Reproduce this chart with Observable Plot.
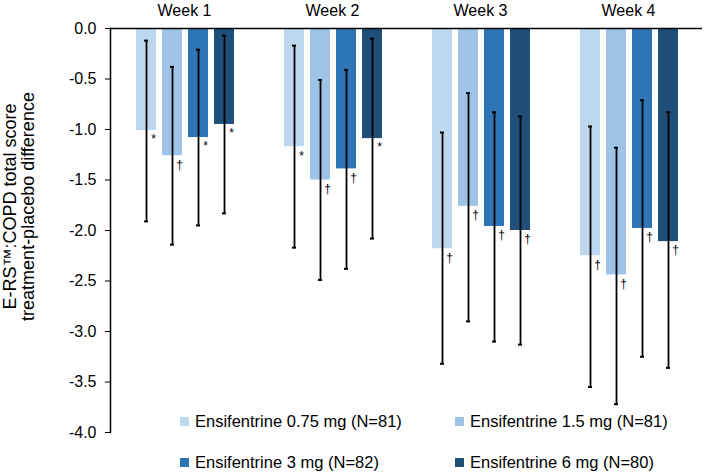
<!DOCTYPE html>
<html>
<head>
<meta charset="utf-8">
<script src="https://cdn.jsdelivr.net/npm/d3@7"></script>
<script src="https://cdn.jsdelivr.net/npm/@observablehq/plot@0.6"></script>
<style>
  html, body { margin: 0; padding: 0; background: #fff; }
  #wrap { position: relative; width: 709px; height: 473px; font-family: "Liberation Sans", Arial, sans-serif; }
  #legend { position: absolute; left: 180px; top: 411px; display: grid; grid-template-columns: 275px auto; row-gap: 21px; font-size: 16.5px; line-height: 20px; color: #000; }
  .item { display: flex; align-items: center; white-space: nowrap; }
  .sw { width: 9px; height: 9px; margin-right: 6px; display: inline-block; }
</style>
</head>
<body>
<div id="wrap"></div>
<script>
const weeks = ["Week 1", "Week 2", "Week 3", "Week 4"];
const doses = ["Ensifentrine 0.75 mg (N=81)", "Ensifentrine 1.5 mg (N=81)", "Ensifentrine 3 mg (N=82)", "Ensifentrine 6 mg (N=80)"];
const doseColors = ["#bdd7ee", "#9dc3e6", "#2e75b6", "#1f4e79"];

// treatment-placebo difference (LS mean) and 95% CI, per week, in dose order
const week1Mean = [-1.01, -1.26, -1.08, -0.95];
const week1Upper = [-0.12, -0.38, -0.21, -0.07];
const week1Lower = [-1.91, -2.14, -1.95, -1.83];
const week1Sig = ["*", "†", "*", "*"];

const week2Mean = [-1.17, -1.50, -1.39, -1.09];
const week2Upper = [-0.17, -0.51, -0.41, -0.10];
const week2Lower = [-2.17, -2.49, -2.38, -2.08];
const week2Sig = ["*", "†", "†", "*"];

const week3Mean = [-2.18, -1.76, -1.96, -2.00];
const week3Upper = [-1.03, -0.64, -0.83, -0.87];
const week3Lower = [-3.32, -2.90, -3.10, -3.13];
const week3Sig = ["†", "†", "†", "†"];

const week4Mean = [-2.25, -2.44, -1.98, -2.11];
const week4Upper = [-0.97, -1.18, -0.71, -0.83];
const week4Lower = [-3.55, -3.72, -3.25, -3.36];
const week4Sig = ["†", "†", "†", "†"];

const yTicks = [0.0, -0.5, -1.0, -1.5, -2.0, -2.5, -3.0, -3.5, -4.0];
const yLabel = "E-RS™:COPD total score\ntreatment-placebo difference";

const perWeek = [
  [week1Mean, week1Lower, week1Upper, week1Sig],
  [week2Mean, week2Lower, week2Upper, week2Sig],
  [week3Mean, week3Lower, week3Upper, week3Sig],
  [week4Mean, week4Lower, week4Upper, week4Sig]
];
const rows = [];
weeks.forEach((w, i) => {
  const [m, lo, hi, s] = perWeek[i];
  doses.forEach((d, j) => rows.push({week: w, dose: d, mean: m[j], lo: lo[j], hi: hi[j], sig: s[j]}));
});

const chart = Plot.plot({
  width: 709,
  height: 473,
  marginLeft: 109,
  marginRight: 6,
  marginTop: 28,
  marginBottom: 41,
  style: {fontFamily: "'Liberation Sans', Arial, sans-serif", fontSize: "16px", color: "#000", background: "#fff"},
  fx: {domain: weeks, padding: 0, label: null, axis: "top", tickSize: 0, tickPadding: 13},
  x: {domain: doses, axis: null, paddingInner: 0.222, paddingOuter: 0.866, align: 0.52},
  y: {domain: [-4, 0], label: null},
  color: {domain: doses, range: doseColors},
  marks: [
    Plot.barY(rows, {fx: "week", x: "dose", y: "mean", fill: "dose"}),
    Plot.ruleY([0], {stroke: "#000", strokeWidth: 1.5}),
    Plot.ruleX(rows, {fx: "week", x: "dose", y1: "lo", y2: "hi", stroke: "#000", strokeWidth: 1.8}),
    Plot.tickY(rows, {fx: "week", x: "dose", y: "lo", stroke: "#000", strokeWidth: 2, insetLeft: 8, insetRight: 8}),
    Plot.tickY(rows, {fx: "week", x: "dose", y: "hi", stroke: "#000", strokeWidth: 2, insetLeft: 8, insetRight: 8}),
    Plot.text(rows, {fx: "week", x: "dose", y: "mean", text: "sig", dx: 7, dy: 9, fontSize: 12, fill: "#000"}),
    Plot.axisY({ticks: yTicks, tickFormat: d => d.toFixed(1), tickSize: 5, tickPadding: 9, label: null, fontSize: 16, stroke: "#000"}),
    Plot.frame({anchor: "left", facetAnchor: "left", stroke: "#000", strokeWidth: 1.5}),
    Plot.text([yLabel], {frameAnchor: "left", facetAnchor: "left", textAnchor: "middle", lineAnchor: "middle", rotate: -90, dx: -91, dy: -24, fontSize: 18, lineHeight: 1, fill: "#000"})
  ]
});

const wrap = document.getElementById("wrap");
wrap.appendChild(chart);

const legend = document.createElement("div");
legend.id = "legend";
doses.forEach((d, i) => {
  const item = document.createElement("div");
  item.className = "item";
  const sw = document.createElement("span");
  sw.className = "sw";
  sw.style.background = doseColors[i];
  const t = document.createElement("span");
  t.textContent = d;
  item.appendChild(sw);
  item.appendChild(t);
  legend.appendChild(item);
});
wrap.appendChild(legend);
</script>
</body>
</html>
